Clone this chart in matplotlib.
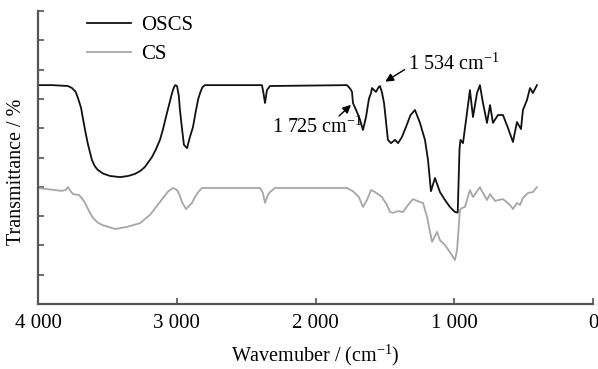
"""
FTIR spectra of OSCS and CS (transmittance vs wavenumber).
"""

import matplotlib
matplotlib.use('Agg')
import matplotlib.pyplot as plt

plt.rcParams.update({
    'font.family': ['Liberation Serif', 'DejaVu Serif'],
    'mathtext.default': 'regular',
    'font.size': 14,
})

# OSCS spectrum (wavenumber cm^-1, transmittance arb. units)
oscs_wn = [4000, 3899, 3784, 3755, 3730, 3712, 3690, 3661, 3640, 3611,
           3590, 3568, 3530, 3481, 3409, 3350, 3301, 3260, 3229, 3178,
           3150, 3121, 3100, 3078, 3050, 3034, 3020, 3010, 2998, 2985,
           2977, 2960, 2948, 2926, 2905, 2883, 2861, 2845, 2832, 2815,
           2796, 2386, 2375, 2364, 2350, 2328, 1773, 1750, 1737, 1730,
           1701, 1680, 1658, 1636, 1615, 1600, 1593, 1564, 1545, 1535,
           1520, 1506, 1478, 1456, 1427, 1405, 1377, 1348, 1315, 1283,
           1247, 1211, 1189, 1168, 1139, 1103, 1067, 1031, 995, 975,
           962, 955, 937, 915, 887, 865, 836, 815, 793, 764,
           742, 721, 685, 649, 613, 577, 548, 519, 505, 476,
           454, 433, 404]
oscs_t = [7.47, 7.47, 7.44, 7.37, 7.25, 7.03, 6.70, 5.94, 5.45, 4.91,
          4.70, 4.57, 4.45, 4.37, 4.33, 4.37, 4.44, 4.55, 4.68, 5.02,
          5.28, 5.60, 5.95, 6.38, 6.90, 7.20, 7.40, 7.47, 7.44, 7.10,
          6.62, 5.90, 5.43, 5.32, 5.70, 6.04, 6.62, 7.00, 7.20, 7.40,
          7.47, 7.47, 7.20, 6.86, 7.30, 7.44, 7.47, 7.35, 7.24, 6.86,
          6.55, 6.30, 5.94, 6.38, 7.00, 7.20, 7.37, 7.24, 7.40, 7.44,
          7.20, 6.86, 5.60, 5.49, 5.60, 5.49, 5.70, 6.04, 6.45, 6.62,
          6.18, 5.60, 4.91, 3.85, 4.30, 3.82, 3.55, 3.31, 3.14, 3.12,
          5.30, 5.60, 5.49, 6.28, 7.30, 6.38, 7.20, 7.47, 6.86, 6.18,
          6.79, 6.18, 6.45, 6.45, 6.01, 5.53, 6.21, 5.97, 6.62, 6.96,
          7.37, 7.20, 7.47]

# CS spectrum
cs_wn = [4000, 3827, 3800, 3784, 3765, 3748, 3705, 3685, 3661, 3630,
         3604, 3570, 3539, 3445, 3359, 3265, 3193, 3150, 3099, 3060,
         3027, 2998, 2980, 2962, 2933, 2890, 2869, 2840, 2818, 2400,
         2380, 2364, 2345, 2328, 2292, 1773, 1730, 1687, 1658, 1629,
         1600, 1571, 1521, 1485, 1463, 1442, 1405, 1369, 1333, 1297,
         1247, 1225, 1196, 1160, 1124, 1103, 1067, 1031, 995, 980,
         959, 944, 923, 887, 865, 815, 793, 764, 742, 706,
         649, 598, 577, 548, 526, 505, 469, 433, 404]
cs_t = [3.96, 3.86, 3.90, 3.99, 3.85, 3.75, 3.72, 3.62, 3.45, 3.15,
        2.94, 2.78, 2.70, 2.56, 2.63, 2.76, 3.04, 3.30, 3.62, 3.85,
        3.96, 3.89, 3.72, 3.48, 3.24, 3.45, 3.65, 3.85, 3.96, 3.96,
        3.80, 3.45, 3.70, 3.82, 3.96, 3.96, 3.85, 3.65, 3.31, 3.55,
        3.89, 3.82, 3.65, 3.38, 3.14, 3.11, 3.17, 3.14, 3.38, 3.58,
        3.48, 3.45, 2.97, 2.12, 2.46, 2.18, 2.01, 1.77, 1.50, 1.84,
        3.21, 3.28, 3.31, 3.89, 3.65, 3.99, 3.79, 3.55, 3.75, 3.52,
        3.58, 3.38, 3.24, 3.45, 3.38, 3.62, 3.79, 3.82, 3.99]

x_ticks = [4000, 3000, 2000, 1000, 0]
x_ticklabels = ['4 000', '3 000', '2 000', '1 000', '0']

axis_gray = '#555555'

fig = plt.figure(figsize=(5.98, 3.69), dpi=100)
ax = fig.add_axes([38 / 598, 65 / 369, 555 / 598, 293 / 369])

ax.plot(oscs_wn, oscs_t, color='#111111', lw=1.3, label='OSCS')
ax.plot(cs_wn, cs_t, color='#a6a6a6', lw=1.3, label='CS')

ax.set_xlim(4000, 0)
ax.set_ylim(0, 10)
ax.set_xticks(x_ticks)
ax.set_xticklabels(x_ticklabels)
ax.set_yticks(range(0, 11))
ax.set_yticklabels([])

for side in ['top', 'right']:
    ax.spines[side].set_visible(False)
for side in ['left', 'bottom']:
    ax.spines[side].set_color(axis_gray)
    ax.spines[side].set_linewidth(1.6)
ax.tick_params(direction='in', length=4, width=1.2, color=axis_gray,
               labelsize=15, pad=7)

ax.set_xlabel('Wavemuber / (cm$^{-1}$)', fontsize=14.5, labelpad=7.5)
ax.set_ylabel('Transmittance / %', fontsize=14.5)
ax.yaxis.set_label_coords(-0.022, 0.45)

# peak annotations
arrow = dict(arrowstyle='-|>', color='black', lw=1.0, mutation_scale=12)
ax.annotate('', xy=(1730, 6.86), xytext=(1845, 6.35), arrowprops=arrow)
ax.text(2314, 5.84, '1 725 cm$^{-1}$', fontsize=14.5, ha='left', va='baseline')
ax.annotate('', xy=(1514, 7.54), xytext=(1341, 8.05), arrowprops=arrow)
ax.text(1333, 7.99, '1 534 cm$^{-1}$', fontsize=14.5, ha='left', va='baseline')

ax.legend(loc='upper left', bbox_to_anchor=(0.088, 0.985), frameon=False,
          borderpad=0, borderaxespad=0, handlelength=2.1, handletextpad=0.5,
          labelspacing=0.45, fontsize=15)

fig.savefig('out.png', dpi=100)
